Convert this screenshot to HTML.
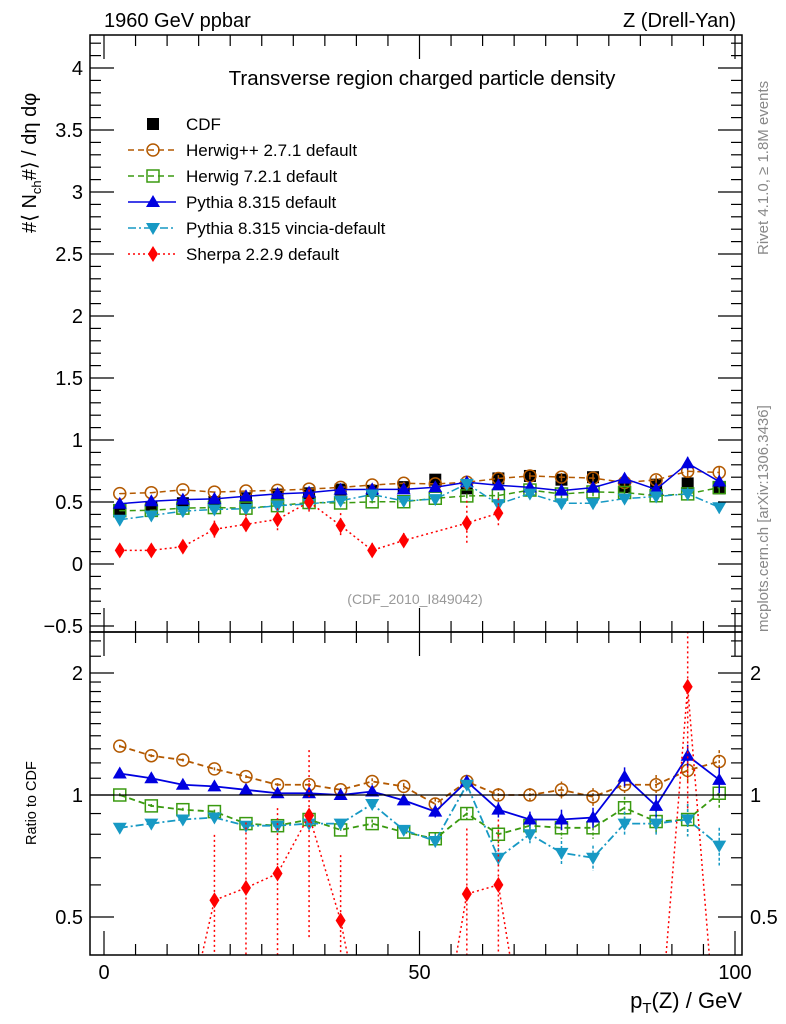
<!DOCTYPE html>
<html><head><meta charset="utf-8"><style>
html,body{margin:0;padding:0;background:#fff;overflow:hidden;width:786px;height:1024px}
svg{display:block}
svg text{font-family:"Liberation Sans",sans-serif}
</style></head><body>
<svg id="chart" width="786" height="1024" viewBox="0 0 786 1024" xmlns="http://www.w3.org/2000/svg">
<rect width="786" height="1024" fill="#fff"/>
<g id="plot"></g>
<text x="104" y="27" font-size="20">1960 GeV ppbar</text>
<text x="736" y="27" font-size="20" text-anchor="end">Z (Drell-Yan)</text>
<text x="422" y="85" font-size="20.5" text-anchor="middle">Transverse region charged particle density</text>
<text x="415" y="604" font-size="14" fill="#999" text-anchor="middle">(CDF_2010_I849042)</text>
<text transform="translate(36,233) rotate(-90)" font-size="20">#⟨ N<tspan font-size="13" dy="5">ch</tspan><tspan dy="-5">#⟩ / dη dφ</tspan></text>
<text transform="translate(36,845) rotate(-90)" font-size="14.5">Ratio to CDF</text>
<text x="742" y="1008" font-size="22" text-anchor="end">p<tspan font-size="15" dy="5">T</tspan><tspan dy="-5">(Z) / GeV</tspan></text>
<text transform="translate(768,255) rotate(-90)" font-size="15" fill="#888">Rivet 4.1.0, ≥ 1.8M events</text>
<text transform="translate(768,632) rotate(-90)" font-size="15" fill="#888">mcplots.cern.ch [arXiv:1306.3436]</text>
</svg>
<script>
const xs=[2.5,7.5,12.5,17.5,22.5,27.5,32.5,37.5,42.5,47.5,52.5,57.5,62.5,67.5,72.5,77.5,82.5,87.5,92.5,97.5];
const cdf=[0.43,0.46,0.49,0.50,0.53,0.56,0.57,0.60,0.59,0.62,0.68,0.61,0.69,0.71,0.68,0.70,0.62,0.64,0.65,0.61];
const rHerwigpp=[1.32,1.25,1.22,1.16,1.11,1.06,1.06,1.03,1.08,1.05,0.95,1.08,1.0,1.0,1.03,0.99,1.06,1.06,1.15,1.21];
const rHerwig7=[1.0,0.94,0.92,0.91,0.85,0.84,0.87,0.82,0.85,0.81,0.78,0.90,0.80,0.84,0.83,0.83,0.93,0.86,0.87,1.01];
const rPythia=[1.13,1.10,1.06,1.05,1.03,1.01,1.01,1.0,1.02,0.97,0.91,1.08,0.92,0.87,0.87,0.88,1.11,0.94,1.25,1.09];
const rVincia=[0.83,0.85,0.87,0.88,0.84,0.84,0.85,0.85,0.95,0.82,0.77,1.06,0.70,0.80,0.72,0.70,0.85,0.85,0.87,0.75];
const rErr=[0.01,0.01,0.01,0.01,0.01,0.01,0.01,0.01,0.02,0.02,0.03,0.03,0.04,0.04,0.05,0.05,0.06,0.06,0.08,0.08];
const sherpaMain=[0.11,0.11,0.14,0.28,0.32,0.36,0.50,0.31,0.11,0.19,null,0.33,0.41,null,null,null,null,null,null,null];
const sherpaMainErr=[0.02,0.02,0.02,0.07,0.08,0.09,0.10,0.10,0.06,0.06,null,0.18,0.12,null,null,null,null,null,null,null];
const sherpaRatio=[0.2,0.2,0.25,0.55,0.59,0.64,0.89,0.49,0.2,0.2,0.2,0.57,0.60,0.2,0.2,0.2,0.2,0.2,1.85,0.2];
const yTicks=[-0.5,0,0.5,1,1.5,2,2.5,3,3.5,4];
const yTickLabels=["−0.5","0","0.5","1","1.5","2","2.5","3","3.5","4"];
const rTicks=[0.5,1,2];
const xTicks=[0,50,100];

const L=90,R=742,T=35,MB=632,RB=955;
const X=v=>104+v*6.31;
const Y=v=>564-v*124;
const RY=v=>795-Math.log2(v)*122;
const g=document.getElementById('plot');
const NS='http://www.w3.org/2000/svg';
function el(t,a,p){const e=document.createElementNS(NS,t);for(const k in a)e.setAttribute(k,a[k]);(p||g).appendChild(e);return e;}
const defs=el('defs',{});
const c1=el('clipPath',{id:'cm'},defs);el('rect',{x:L,y:T,width:R-L,height:MB-T},c1);
const c2=el('clipPath',{id:'cr'},defs);el('rect',{x:L,y:MB,width:R-L,height:RB-MB},c2);
const gm=el('g',{'clip-path':'url(#cm)'});
const gr=el('g',{'clip-path':'url(#cr)'});
el('rect',{x:L,y:T,width:R-L,height:MB-T,fill:'none',stroke:'#000','stroke-width':1.5});
el('rect',{x:L,y:MB,width:R-L,height:RB-MB,fill:'none',stroke:'#000','stroke-width':1.5});
el('line',{x1:L,x2:R,y1:RY(1),y2:RY(1),stroke:'#000','stroke-width':1.3});
for(let i=-6;i<=42;i++){const v=i/10,y=Y(v);if(y<T||y>MB)continue;const maj=(i%5===0);const len=maj?24:11;
 el('line',{x1:L,x2:L+len,y1:y,y2:y,stroke:'#000','stroke-width':1.2});el('line',{x1:R,x2:R-len,y1:y,y2:y,stroke:'#000','stroke-width':1.2});}
yTicks.forEach((v,i)=>{const t=el('text',{x:L-7,y:Y(v)+7,'font-size':20,'text-anchor':'end'});t.textContent=yTickLabels[i];});
[0.5,0.6,0.7,0.8,0.9,1,1.1,1.2,1.3,1.4,1.5,1.6,1.7,1.8,1.9,2,2.2,2.4].forEach(v=>{const y=RY(v);if(y<MB||y>RB)return;const maj=rTicks.includes(v);const len=maj?24:11;
 el('line',{x1:L,x2:L+len,y1:y,y2:y,stroke:'#000','stroke-width':1.2});el('line',{x1:R,x2:R-len,y1:y,y2:y,stroke:'#000','stroke-width':1.2});});
rTicks.forEach(v=>{const t=el('text',{x:L-7,y:RY(v)+7,'font-size':20,'text-anchor':'end'});t.textContent=String(v);
 const t2=el('text',{x:R+8,y:RY(v)+7,'font-size':20,fill:'#000'});t2.textContent=String(v);});
for(let v=0;v<=100;v+=5){const x=X(v);const maj=(v%50===0);const len=maj?24:11;
 [[T,1],[MB,-1],[MB,1],[RB,-1]].forEach(([y0,d])=>el('line',{x1:x,x2:x,y1:y0,y2:y0+d*len,stroke:'#000','stroke-width':1.2}));}
xTicks.forEach(v=>{const t=el('text',{x:X(v),y:979,'font-size':20,'text-anchor':'middle'});t.textContent=String(v);});

function marker(p,type,x,y,c){
 if(type==='sq')el('rect',{x:x-6,y:y-6,width:12,height:12,fill:'#000'},p);
 else if(type==='circ')el('circle',{cx:x,cy:y,r:6,fill:'none',stroke:c,'stroke-width':1.5},p);
 else if(type==='osq')el('rect',{x:x-6,y:y-6,width:12,height:12,fill:'none',stroke:c,'stroke-width':1.5},p);
 else if(type==='tri')el('path',{d:`M${x},${y-7}L${x+7},${y+5}L${x-7},${y+5}Z`,fill:c},p);
 else if(type==='itri')el('path',{d:`M${x},${y+7}L${x+7},${y-5}L${x-7},${y-5}Z`,fill:c},p);
 else if(type==='dia')el('path',{d:`M${x},${y-8}L${x+5},${y}L${x},${y+8}L${x-5},${y}Z`,fill:c},p);
}
const series=[
 {name:'herwigpp',r:rHerwigpp,c:'#b35900',dash:'6,4',m:'circ',lbl:'Herwig++ 2.7.1 default'},
 {name:'herwig7',r:rHerwig7,c:'#3a9a10',dash:'6,4',m:'osq',lbl:'Herwig 7.2.1 default'},
 {name:'pythia',r:rPythia,c:'#0000e0',dash:'',m:'tri',lbl:'Pythia 8.315 default'},
 {name:'vincia',r:rVincia,c:'#1799c4',dash:'8,3,2,3',m:'itri',lbl:'Pythia 8.315 vincia-default'}];
const gc=el('g',{},gm);
xs.forEach((x,i)=>{el('line',{x1:X(x),x2:X(x),y1:Y(cdf[i]+0.02),y2:Y(cdf[i]-0.02),stroke:'#000'},gc);marker(gc,'sq',X(x),Y(cdf[i]));});
series.forEach(s=>{
 const sg=el('g',{},gm);
 const rg=el('g',{},gr);
 const vals=xs.map((x,i)=>cdf[i]*s.r[i]);
 el('polyline',{points:xs.map((x,i)=>X(x)+','+Y(vals[i])).join(' '),fill:'none',stroke:s.c,'stroke-width':1.5,'stroke-dasharray':s.dash},sg);
 el('polyline',{points:xs.map((x,i)=>X(x)+','+RY(s.r[i])).join(' '),fill:'none',stroke:s.c,'stroke-width':1.8,'stroke-dasharray':s.dash},rg);
 xs.forEach((x,i)=>{
  const e=rErr[i];
  el('line',{x1:X(x),x2:X(x),y1:Y(vals[i]+e*cdf[i]),y2:Y(vals[i]-e*cdf[i]),stroke:s.c,'stroke-width':1.5},sg);
  el('line',{x1:X(x),x2:X(x),y1:RY(s.r[i]+e),y2:RY(s.r[i]-e),stroke:s.c,'stroke-width':1.5,'stroke-dasharray':s.dash?'3,2':''},rg);
  marker(sg,s.m,X(x),Y(vals[i]),s.c);marker(rg,s.m,X(x),RY(s.r[i]),s.c);});
});
const shg=el('g',{},gm);
let pts=[];xs.forEach((x,i)=>{if(sherpaMain[i]!==null)pts.push(X(x)+','+Y(sherpaMain[i]));});
el('polyline',{points:pts.join(' '),fill:'none',stroke:'#f00','stroke-width':1.5,'stroke-dasharray':'2,3'},shg);
xs.forEach((x,i)=>{if(sherpaMain[i]===null)return;const e=sherpaMainErr[i];
 el('line',{x1:X(x),x2:X(x),y1:Y(sherpaMain[i]+e),y2:Y(sherpaMain[i]-e),stroke:'#f00','stroke-width':1.5,'stroke-dasharray':'2,3'},shg);
 marker(shg,'dia',X(x),Y(sherpaMain[i]),'#f00');});
const srg=el('g',{},gr);
el('polyline',{points:xs.map((x,i)=>X(x)+','+RY(sherpaRatio[i])).join(' '),fill:'none',stroke:'#f00','stroke-width':1.5,'stroke-dasharray':'2,3'},srg);
xs.forEach((x,i)=>{const v=sherpaRatio[i];
 el('line',{x1:X(x),x2:X(x),y1:RY(v*1.45),y2:RY(v*0.5),stroke:'#f00','stroke-width':1.5,'stroke-dasharray':'2,3'},srg);
 marker(srg,'dia',X(x),RY(v),'#f00');});
const leg=[{m:'sq',c:'#000',dash:null,lbl:'CDF'}].concat(series).concat([{m:'dia',c:'#f00',dash:'2,3',lbl:'Sherpa 2.2.9 default'}]);
leg.forEach((s,i)=>{const y=124+i*26;
 const lg=el('g',{});
 if(s.dash!==null&&s.dash!==undefined)el('line',{x1:128,x2:176,y1:y,y2:y,stroke:s.c,'stroke-width':1.5,'stroke-dasharray':s.dash},lg);
 marker(lg,s.m,153,y,s.c);
 const t=el('text',{x:186,y:y+6,'font-size':17},lg);t.textContent=s.lbl;});
</script>
</body></html>
